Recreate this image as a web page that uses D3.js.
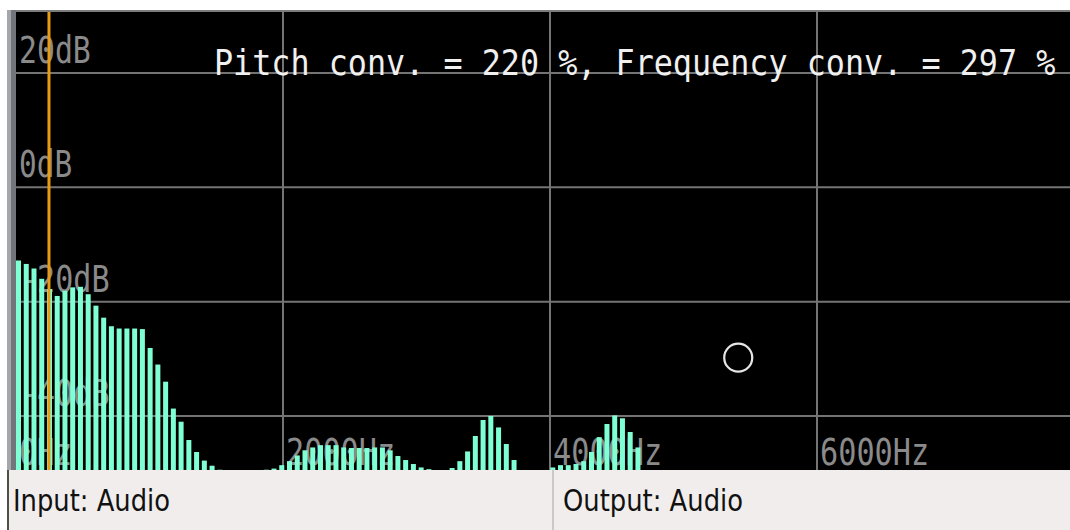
<!DOCTYPE html>
<html><head><meta charset="utf-8">
<script src="https://cdn.jsdelivr.net/npm/d3@7"></script>
<style>html,body{margin:0;padding:0;background:#fff;overflow:hidden}</style>
</head><body><svg id="c" width="1070" height="530"></svg>
<script>
// ---- data ----
const binHz = 58; // spacing of spectrum bins (Hz)
const spectrumDb = [
  -12.8,-13.4,-14.2,-16.0,-17.8,-19.0,-18.1,-17.5,-17.4,-18.7,
  -20.7,-22.8,-24.3,-24.7,-24.7,-24.7,-24.8,-28.1,-31.0,-34.0,
  -38.7,-41.0,-44.2,-46.3,-47.8,-48.7,-49.4,-60,-60,-60,
  -60,-60,-49.4,-49.2,-48.6,-47.9,-46.9,-46.0,-45.5,-45.1,
  -45.1,-45.1,-45.5,-45.6,-45.6,-45.6,-45.5,-45.5,-46.0,-47.0,
  -47.7,-48.4,-49.0,-49.3,-60,-60,-49.1,-47.9,-46.2,-43.5,
  -40.7,-40.0,-42.0,-44.9,-47.7,-60,-60,-60,-60,-49.0,
  -48.6,-48.6,-48.4,-47.9,-46.3,-43.7,-41.4,-39.9,-40.4,-42.8,
  -45.5
];
const dbTicks = [20, 0, -20, -40];
const dbTickLabels = ["20dB", "0dB", "-20dB", "-40dB"];
const hzTicks = [0, 2000, 4000, 6000];
const hzTickLabels = ["0Hz", "2000Hz", "4000Hz", "6000Hz"];
const pitchMarkerHz = 247;
const cursorPoint = { hz: 5410, db: -29.8 };
const pitchConvPct = 220;
const freqConvPct = 297;
const panelLabels = ["Input: Audio", "Output: Audio"];

// ---- layout ----
const W = 1070, H = 530;
const plot = { left: 16, right: 1070, top: 12, bottom: 470 };
const svg = d3.select("#c");

const x = d3.scaleLinear().domain([0, 2000]).range([16, 283]);
const y = d3.scaleLinear().domain([-40, 20]).range([416, 73]);

const mono = "'DejaVu Sans Mono', monospace";
const charW = 18.7;

// frame
svg.append("rect").attr("x", 0).attr("y", 0).attr("width", W).attr("height", H).attr("fill", "#ffffff");
svg.append("rect").attr("x", 7).attr("y", 10).attr("width", W - 7).attr("height", plot.bottom - 10).attr("fill", "#000");
svg.append("rect").attr("x", 7).attr("y", 10).attr("width", W - 7).attr("height", 2).attr("fill", "#7c7c7c");
svg.append("rect").attr("x", 7).attr("y", 10).attr("width", 4).attr("height", plot.bottom - 10).attr("fill", "#a3a7ab");
svg.append("rect").attr("x", 11).attr("y", 10).attr("width", 5).attr("height", plot.bottom - 10).attr("fill", "#72767a");

svg.append("defs").append("clipPath").attr("id", "pc")
  .append("rect").attr("x", plot.left).attr("y", plot.top)
  .attr("width", plot.right - plot.left).attr("height", plot.bottom - plot.top);

const g = svg.append("g").attr("clip-path", "url(#pc)");

// grid
g.selectAll("line.h").data(dbTicks).join("line")
  .attr("x1", plot.left).attr("x2", plot.right)
  .attr("y1", d => y(d)).attr("y2", d => y(d))
  .attr("stroke", "#747474").attr("stroke-width", 2);
g.selectAll("line.v").data(hzTicks.slice(1)).join("line")
  .attr("x1", d => x(d)).attr("x2", d => x(d))
  .attr("y1", plot.top).attr("y2", plot.bottom)
  .attr("stroke", "#747474").attr("stroke-width", 2);

// axis labels (drawn under the bars)
const lab = svg.append("g");
lab.selectAll("text.db").data(dbTicks).join("text")
  .attr("x", plot.left + 3).attr("y", d => y(d) - 10)
  .attr("font-family", mono).attr("font-size", 37).attr("fill", "#8a8a8a")
  .attr("textLength", (d, i) => dbTickLabels[i].length * charW - 3)
  .attr("lengthAdjust", "spacingAndGlyphs")
  .text((d, i) => dbTickLabels[i]);
lab.selectAll("text.hz").data(hzTicks).join("text")
  .attr("x", d => x(d) + 3).attr("y", 465)
  .attr("font-family", mono).attr("font-size", 37).attr("fill", "#8a8a8a")
  .attr("textLength", (d, i) => hzTickLabels[i].length * charW - 3)
  .attr("lengthAdjust", "spacingAndGlyphs")
  .text((d, i) => hzTickLabels[i]);

// spectrum bars
const g2 = svg.append("g").attr("clip-path", "url(#pc)");
g2.selectAll("rect.bar").data(spectrumDb).join("rect")
  .attr("x", (d, i) => x(i * binHz))
  .attr("y", d => Math.min(y(d), plot.bottom))
  .attr("width", 5)
  .attr("height", d => Math.max(0, plot.bottom - y(d)))
  .attr("fill", "#7fffd4");

// title
svg.append("g").attr("transform", "translate(214,75) scale(1.025,1.17)")
  .append("text")
  .attr("x", 0).attr("y", 0)
  .attr("font-family", mono).attr("font-size", 31).attr("fill", "#f0f0f0")
  .text(`Pitch conv. = ${pitchConvPct} %, Frequency conv. = ${freqConvPct} %`);

// pitch marker
g2.append("line")
  .attr("x1", x(pitchMarkerHz)).attr("x2", x(pitchMarkerHz))
  .attr("y1", plot.top).attr("y2", plot.bottom)
  .attr("stroke", "#e89a12").attr("stroke-width", 3);

// cursor circle
g2.append("circle")
  .attr("cx", x(cursorPoint.hz)).attr("cy", y(cursorPoint.db)).attr("r", 14)
  .attr("fill", "none").attr("stroke", "#e6e6e6").attr("stroke-width", 2.2);

// bottom status bar
svg.append("rect").attr("x", 7).attr("y", plot.bottom).attr("width", W - 7).attr("height", H - plot.bottom).attr("fill", "#f0edec");
svg.append("rect").attr("x", 7).attr("y", plot.bottom).attr("width", 2).attr("height", H - plot.bottom).attr("fill", "#4e4f46");
svg.append("rect").attr("x", 552).attr("y", plot.bottom).attr("width", 2).attr("height", H - plot.bottom).attr("fill", "#cbc8c7");
const panelX = [13, 563], panelW = [157, 180];
svg.selectAll("text.panel").data(panelLabels).join("text")
  .attr("x", (d, i) => panelX[i]).attr("y", 511)
  .attr("font-family", "'DejaVu Sans', sans-serif").attr("font-size", 31).attr("fill", "#111")
  .attr("textLength", (d, i) => panelW[i]).attr("lengthAdjust", "spacingAndGlyphs")
  .text(d => d);
</script>
</body></html>
